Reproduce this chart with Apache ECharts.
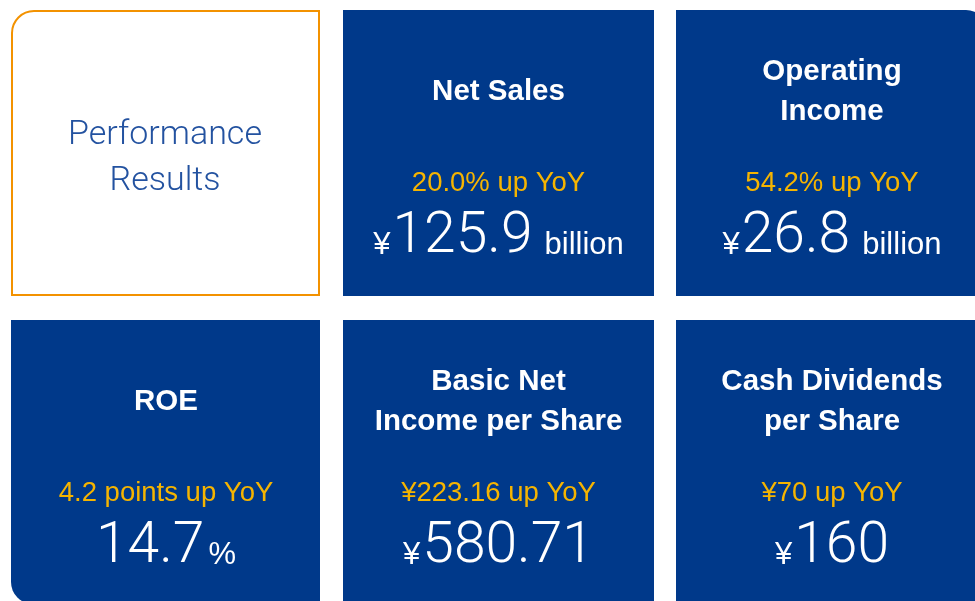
<!DOCTYPE html>
<html>
<head>
<meta charset="utf-8">
<script src="https://cdn.jsdelivr.net/npm/echarts@6/dist/echarts.min.js"></script>
<style>
  html, body { margin: 0; padding: 0; background: #fff; }
  #chart { width: 975px; height: 601px; }
</style>
</head>
<body>
<div id="chart"></div>
<script>
// headline tile + five KPI tiles
const headline = ['Performance', 'Results'];
const titles = [['Net Sales'], ['Operating', 'Income'], ['ROE'], ['Basic Net', 'Income per Share'], ['Cash Dividends', 'per Share']];
const yoyLabels = ['20.0% up YoY', '54.2% up YoY', '4.2 points up YoY', '¥223.16 up YoY', '¥70 up YoY'];
const values = ['125.9', '26.8', '14.7', '580.71', '160'];
const prefixes = ['¥', '¥', '', '¥', '¥'];
const suffixes = ['billion', 'billion', '%', '', ''];

const NAVY = '#00398a';
const ORANGE = '#f39200';
const YELLOW = '#f5b400';
const SANS = '"Liberation Sans", Arial, sans-serif';
const LIGHT = 'Roboto, "Liberation Sans", sans-serif';

const colX = [11, 343, 676];
const colW = [309, 311, 312];
const rowY = [10, 320];
const rowH = [286, 290];

const ctx = document.createElement('canvas').getContext('2d');
function measure(font, text) {
    ctx.font = font;
    return ctx.measureText(text).width;
}

// text whose alphabetic baseline sits at y
function textAt(x, baseline, text, size, weight, family, color, align) {
    return {
        type: 'text',
        x: x,
        y: baseline - size * 0.31,
        silent: true,
        style: {
            text: text,
            fill: color,
            font: weight + ' ' + size + 'px ' + family,
            align: align || 'center',
            verticalAlign: 'middle'
        }
    };
}

const elements = [];

// headline tile
elements.push({
    type: 'rect',
    shape: { x: 12, y: 11, width: 307, height: 284, r: [22, 0, 0, 0] },
    style: { fill: '#fff', stroke: ORANGE, lineWidth: 2 }
});
headline.forEach((line, i) => {
    elements.push(textAt(165, 146 + i * 46, line, 34, 300, LIGHT, '#2352a0'));
});

titles.forEach((title, k) => {
    const slot = k + 1;
    const row = Math.floor(slot / 3);
    const col = slot % 3;
    const x0 = colX[col];
    const y0 = rowY[row];
    let w = colW[col];
    let h = rowH[row];
    let r = [0, 0, 0, 0];
    if (slot === 2) { w = 312; r = [0, 22, 0, 0]; }
    if (slot === 3) { h = 284; r = [0, 0, 0, 22]; }
    elements.push({
        type: 'rect',
        shape: { x: x0, y: y0, width: w, height: h, r: r },
        style: { fill: NAVY }
    });
    const cx = slot === 3 ? 166 : x0 + colW[col] / 2;

    // title lines
    const base = title.length === 1 ? [91] : [71, 111];
    title.forEach((line, i) => {
        elements.push(textAt(cx, y0 + base[i], line, 29.5, 'bold', SANS, '#fff'));
    });

    // year-on-year change
    elements.push(textAt(cx, y0 + 182, yoyLabels[k], 27.5, 'normal', SANS, YELLOW));

    // big figure: prefix + value + suffix, centred as a group
    const pre = prefixes[k], suf = suffixes[k];
    const fPre = 'normal 31px ' + SANS;
    const fNum = '300 57px ' + LIGHT;
    const fSuf = 'normal 31px ' + SANS;
    const wPre = pre ? measure(fPre, pre) + 2 : 0;
    const wNum = measure(fNum, values[k]);
    const gapSuf = suf === '%' ? 4 : 12;
    const wSuf = suf ? gapSuf + measure(fSuf, suf) : 0;
    let left = cx - (wPre + wNum + wSuf) / 2;
    const by = y0 + 245;
    if (pre) elements.push(textAt(left, by, pre, 31, 'normal', SANS, '#fff', 'left'));
    left += wPre;
    elements.push(textAt(left, by, values[k], 57, 300, LIGHT, '#fff', 'left'));
    left += wNum + gapSuf;
    if (suf) elements.push(textAt(left, by, suf, 31, 'normal', SANS, '#fff', 'left'));
});

const chart = echarts.init(document.getElementById('chart'), null, { renderer: 'canvas' });
chart.setOption({
    backgroundColor: '#fff',
    animation: false,
    graphic: { elements: elements }
});
</script>
</body>
</html>
